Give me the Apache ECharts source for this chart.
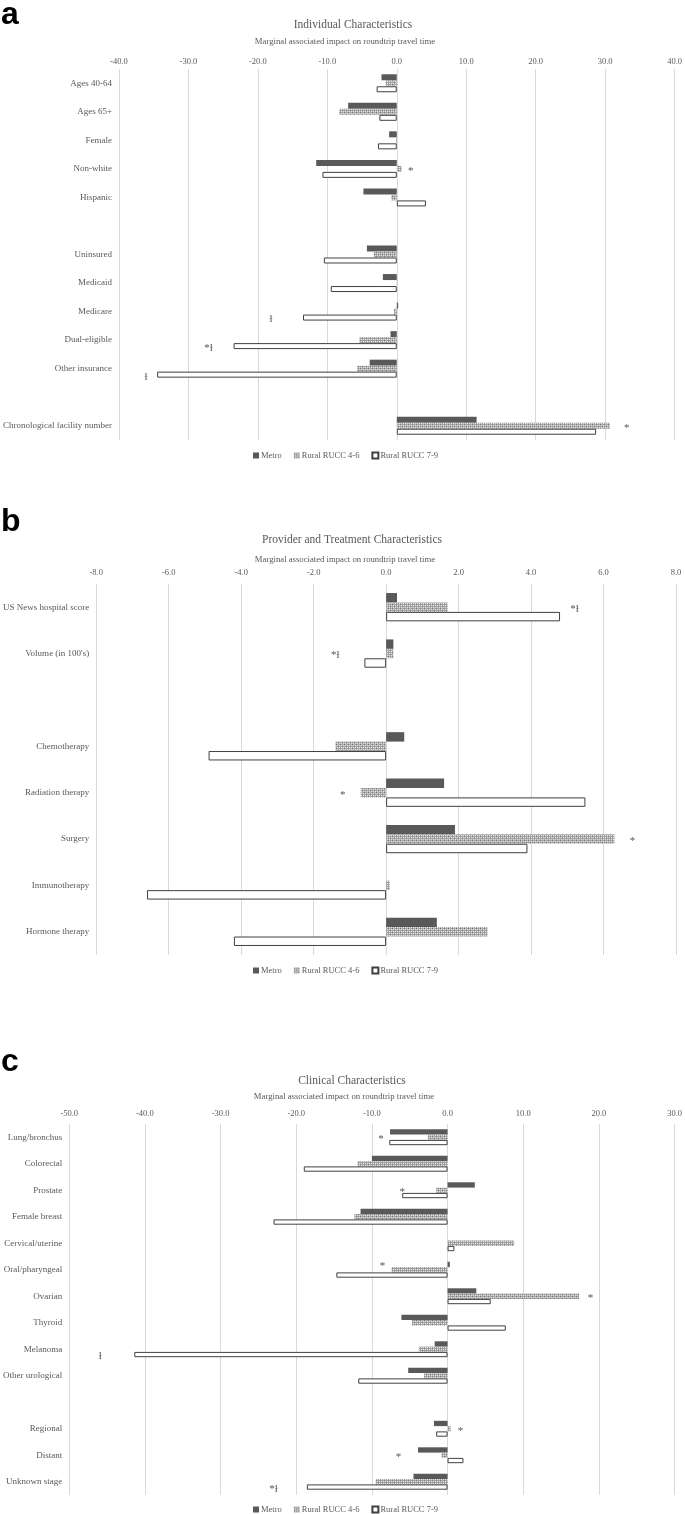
<!DOCTYPE html>
<html><head><meta charset="utf-8">
<script src="https://cdn.jsdelivr.net/npm/echarts@6/dist/echarts.min.js"></script>
<style>html,body{margin:0;padding:0;background:#fff}#c{width:685px;height:1514px}</style>
</head><body><div id="c"></div>
<script>
// ---------- DATA ----------
const seriesNames = ['Metro', 'Rural RUCC 4-6', 'Rural RUCC 7-9'];
const panelLetters = ['a', 'b', 'c'];
const panelTitles = ['Individual Characteristics', 'Provider and Treatment Characteristics', 'Clinical Characteristics'];
const axisTitle = 'Marginal associated impact on roundtrip travel time';

const catsA = ['Ages 40-64', 'Ages 65+', 'Female', 'Non-white', 'Hispanic', '', 'Uninsured', 'Medicaid', 'Medicare', 'Dual-eligible', 'Other insurance', ' ', 'Chronological facility number'];
const metroA = [-2.2, -7.0, -1.1, -11.6, -4.8, null, -4.3, -2.0, 0.2, -0.9, -3.9, null, 11.5];
const rural46A = [-1.6, -8.3, -0.1, 0.7, -0.8, null, -3.3, 0.1, -0.4, -5.4, -5.7, null, 30.7];
const rural79A = [-2.9, -2.5, -2.7, -10.7, 4.2, null, -10.5, -9.5, -13.5, -23.5, -34.5, null, 28.7];
const ticksA = { min: -40, max: 40, interval: 10 };
// [category, x position (axis units), marker text, bar row it sits beside: 0 Metro, 1 RUCC 4-6, 2 RUCC 7-9]
const notesA = [['Non-white', 2.0, '*', 1], ['Medicare', -18.1, 'ɫ', 2], ['Dual-eligible', -27.1, '*ɫ', 2], ['Other insurance', -36.1, 'ɫ', 2], ['Chronological facility number', 33.1, '*', 1]];

const catsB = ['US News hospital score', "Volume (in 100's)", '', 'Chemotherapy', 'Radiation therapy', 'Surgery', 'Immunotherapy', 'Hormone therapy'];
const metroB = [0.3, 0.2, null, 0.5, 1.6, 1.9, 0.0, 1.4];
const rural46B = [1.7, 0.2, null, -1.4, -0.7, 6.3, 0.1, 2.8];
const rural79B = [4.8, -0.6, null, -4.9, 5.5, 3.9, -6.6, -4.2];
const ticksB = { min: -8, max: 8, interval: 2 };
const notesB = [['US News hospital score', 5.2, '*ɫ', 1], ["Volume (in 100's)", -1.4, '*ɫ', 1], ['Radiation therapy', -1.2, '*', 1], ['Surgery', 6.8, '*', 1]];

const catsC = ['Lung/bronchus', 'Colorectal', 'Prostate', 'Female breast', 'Cervical/uterine', 'Oral/pharyngeal', 'Ovarian', 'Thyroid', 'Melanoma', 'Other urological', '', 'Regional', 'Distant', 'Unknown stage'];
const metroC = [-7.6, -10.0, 3.6, -11.5, 0.0, 0.3, 3.8, -6.1, -1.7, -5.2, null, -1.8, -3.9, -4.5];
const rural46C = [-2.6, -11.9, -1.5, -12.3, 8.8, -7.4, 17.4, -4.7, -3.8, -3.1, null, 0.4, -0.8, -9.5];
const rural79C = [-7.7, -19.0, -6.0, -23.0, 0.9, -14.7, 5.7, 7.7, -41.4, -11.8, null, -1.5, 2.1, -18.6];
const ticksC = { min: -50, max: 30, interval: 10 };
const notesC = [['Lung/bronchus', -8.8, '*', 1], ['Prostate', -6.0, '*', 1], ['Oral/pharyngeal', -8.6, '*', 0], ['Ovarian', 18.9, '*', 1], ['Melanoma', -45.9, 'ɫ', 2], ['Regional', 1.7, '*', 1], ['Distant', -6.5, '*', 1], ['Unknown stage', -23.0, '*ɫ', 2]];

// ---------- STYLE / LAYOUT ----------
const SERIF = "'Liberation Serif','Times New Roman',serif";
const TXT = '#595959';
function hatch() {
  const c = document.createElement('canvas'); c.width = 4; c.height = 4;
  const g = c.getContext('2d');
  g.fillStyle = '#a8a8a8'; g.fillRect(0, 0, 4, 4);
  g.fillStyle = '#808080'; g.fillRect(0, 0, 1, 1); g.fillRect(2, 2, 1, 1);
  g.fillStyle = '#e4e4e4'; g.fillRect(1, 1, 1, 1); g.fillRect(3, 3, 1, 1); g.fillRect(1, 3, 1, 1); g.fillRect(3, 1, 1, 1);
  return c;
}
const barStyles = [
  { color: '#595959' },
  { color: { image: hatch(), repeat: 'repeat' } },
  { color: '#ffffff', borderColor: '#404040', borderWidth: 1 }
];
const panels = [
  { cats: catsA, vals: [metroA, rural46A, rural79A], ticks: ticksA, notes: notesA,
    left: 115, top: 69, height: 371, lm: 3, gap: '37%', bw: 6, legendTop: 451,
    letterY: 15, titleY: 25, subY: 42, titleX: 353, subX: 345 },
  { cats: catsB, vals: [metroB, rural46B, rural79B], ticks: ticksB, notes: notesB,
    left: 92, top: 584, height: 371, lm: 7, gap: '39%', bw: 9.5, legendTop: 966,
    letterY: 522, titleY: 540, subY: 560, titleX: 352, subX: 345 },
  { cats: catsC, vals: [metroC, rural46C, rural79C], ticks: ticksC, notes: notesC,
    left: 66, top: 1124, height: 371, lm: 6, gap: '40%', bw: 5.3, legendTop: 1505,
    letterY: 1062, titleY: 1081, subY: 1097, titleX: 352, subX: 344 }
];

const option = { animation: false, grid: [], xAxis: [], yAxis: [], series: [], legend: [], graphic: [] };
panels.forEach((p, k) => {
  option.grid.push({ left: p.left, right: 9, top: p.top, height: p.height });
  option.xAxis.push({
    type: 'value', gridIndex: k, position: 'top', min: p.ticks.min, max: p.ticks.max, interval: p.ticks.interval,
    axisLabel: { formatter: v => v.toFixed(1), fontSize: 8.5, color: TXT, fontFamily: SERIF, margin: p.lm },
    axisLine: { show: false }, axisTick: { show: false },
    splitLine: { lineStyle: { color: '#d9d9d9', width: 1 } }
  });
  option.yAxis.push({
    type: 'category', gridIndex: k, data: p.cats, inverse: true,
    axisLine: { show: false, onZero: false }, axisTick: { show: false }, splitLine: { show: false },
    axisLabel: { interval: 0, fontSize: 9, color: TXT, fontFamily: SERIF, margin: 7 }
  });
  seriesNames.forEach((n, j) => {
    option.series.push({
      type: 'bar', name: n, xAxisIndex: k, yAxisIndex: k, data: p.vals[j],
      barGap: '0%', barCategoryGap: p.gap, itemStyle: barStyles[j], silent: true
    });
  });
  option.series.push({
    type: 'scatter', xAxisIndex: k, yAxisIndex: k, symbolSize: 1, silent: true,
    itemStyle: { color: 'rgba(0,0,0,0)' },
    label: { show: true, position: 'inside', formatter: '{b}', color: '#262626', fontSize: 11, fontFamily: SERIF },
    data: p.notes.map(a => ({ name: a[2], value: [a[1], p.cats.indexOf(a[0])], label: { offset: [0, (a[3] - 1) * p.bw + 2] } }))
  });
  option.legend.push({
    top: p.legendTop, left: 253, padding: 0, itemWidth: 6, itemHeight: 6, itemGap: 12, icon: 'rect', selectedMode: false,
    textStyle: { fontSize: 8.5, color: TXT, fontFamily: SERIF, padding: [0, 0, 0, -3] }, data: seriesNames
  });
  option.graphic.push(
    { type: 'text', x: 1, y: p.letterY, silent: true, style: { text: panelLetters[k], font: 'bold 32px "Liberation Sans", Arial, sans-serif', fill: '#000', align: 'left', verticalAlign: 'middle' } },
    { type: 'text', x: p.titleX, y: p.titleY, silent: true, style: { text: panelTitles[k], fontSize: 11.5, fontFamily: SERIF, fill: TXT, align: 'center', verticalAlign: 'middle' } },
    { type: 'text', x: p.subX, y: p.subY, silent: true, style: { text: axisTitle, fontSize: 8.7, fontFamily: SERIF, fill: TXT, align: 'center', verticalAlign: 'middle' } }
  );
});

const chart = echarts.init(document.getElementById('c'), null, { renderer: 'canvas' });
chart.setOption(option);
</script></body></html>
